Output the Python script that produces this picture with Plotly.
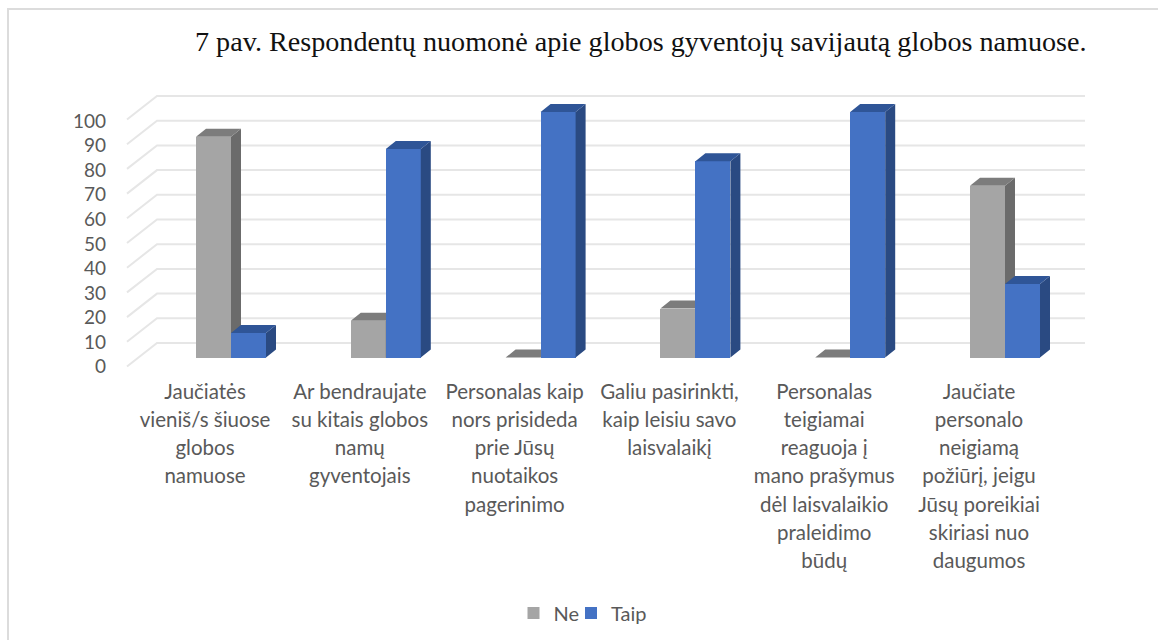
import plotly.graph_objects as go

categories = [
    ["Jaučiatės", "vieniš/s šiuose", "globos", "namuose"],
    ["Ar bendraujate", "su kitais globos", "namų", "gyventojais"],
    ["Personalas kaip", "nors prisideda", "prie Jūsų", "nuotaikos", "pagerinimo"],
    ["Galiu pasirinkti,", "kaip leisiu savo", "laisvalaikį"],
    ["Personalas", "teigiamai", "reaguoja į", "mano prašymus", "dėl laisvalaikio", "praleidimo", "būdų"],
    ["Jaučiate", "personalo", "neigiamą", "požiūrį, jeigu", "Jūsų poreikiai", "skiriasi nuo", "daugumos"],
]
ne = [90, 15, 0, 20, 0, 70]
taip = [10, 85, 100, 80, 100, 30]
ticks = [0, 10, 20, 30, 40, 50, 60, 70, 80, 90, 100]

W, H = 1158, 640
L, R, T, B = 107, 1110, 80, 376
PX_X = 154.8      # pixels per category
PX_Y = 2.455      # pixels per value unit
X0, Y0 = 231, 357.6  # pixel of x=0, value=0 at the bar front

bar_w = 35 / PX_X
dx, dy = 10 / PX_X, 8 / PX_Y          # bar depth
GRID_PX = 2.47                        # back wall grid step, pixels per value unit
label_shift = 9 / PX_Y                # tick label centre below the bar base
wall_left, wall_back = (127 - X0) / PX_X, (157 - X0) / PX_X
wall_right = (1085 - X0) / PX_X

xr = [(L - X0) / PX_X, (R - X0) / PX_X]
yr = [(Y0 - B) / PX_Y, (Y0 - T) / PX_Y]

TEXT = "#595959"
SANS = "Lato"


def rings(quads):
    xs, ys = [], []
    for q in quads:
        xs += [p[0] for p in q] + [q[0][0], None]
        ys += [p[1] for p in q] + [q[0][1], None]
    return xs, ys


def series(name, values, offset, front, side, top, xa, ya, legend):
    i_v = list(enumerate(values))
    out = [go.Bar(x=list(range(len(values))), y=values, name=name, width=bar_w,
                  offset=offset, marker=dict(color=front, line=dict(width=0)),
                  xaxis=xa, yaxis=ya, legend=legend)]
    sq = [[(i + offset + bar_w, 0), (i + offset + bar_w + dx, dy),
           (i + offset + bar_w + dx, v + dy), (i + offset + bar_w, v)] for i, v in i_v]
    tq = [[(i + offset, v), (i + offset + dx, v + dy),
           (i + offset + bar_w + dx, v + dy), (i + offset + bar_w, v)] for i, v in i_v]
    for quads, col in ((sq, side), (tq, top)):
        xs, ys = rings(quads)
        out.append(go.Scatter(x=xs, y=ys, mode="lines", fill="toself", fillcolor=col,
                              line=dict(width=0), hoverinfo="skip", showlegend=False,
                              xaxis=xa, yaxis=ya))
    return out


# wall grid lines: back wall at y px 343 for 0, step GRID_PX; front edge 24 px lower
gx, gy = [], []
for t in ticks:
    back = (Y0 - 343) / PX_Y + t * GRID_PX / PX_Y
    gx += [wall_left, wall_back, wall_right, None]
    gy += [back - 23.5 / PX_Y, back, back, None]

fig = go.Figure()
fig.add_trace(go.Scatter(x=gx, y=gy, mode="lines", line=dict(color="#e6e6e6", width=2),
                         hoverinfo="skip", showlegend=False))
fig.add_traces(series("Ne", ne, -bar_w, "#a5a5a5", "#6b6b6b", "#7c7c7c", "x2", "y2", "legend"))
fig.add_traces(series("Taip", taip, 0, "#4472c4", "#2a4a82", "#2f5597", "x3", "y3", "legend2"))


def label(lines):
    return "<br>".join(f'<span style="font-size:20.5px">{s}</span>' for s in lines)


def legend_at(px):
    return dict(x=(px - L) / (R - L), xanchor="left", y=(B - 613) / (B - T), yanchor="middle",
                orientation="h", itemwidth=30, bgcolor="rgba(0,0,0,0)",
                font=dict(family=SANS, size=20, color=TEXT))


hidden = dict(visible=False, showgrid=False, zeroline=False)
fig.update_layout(
    width=W, height=H, autosize=False,
    margin=dict(l=L, r=W - R, t=T, b=H - B, pad=0, autoexpand=False),
    paper_bgcolor="white", plot_bgcolor="white",
    barmode="overlay", bargap=0,
    title=dict(text="7 pav. Respondentų nuomonė apie globos gyventojų savijautą globos namuose.",
               x=195 / W, xanchor="left", xref="container", y=1 - 41 / H, yanchor="middle",
               font=dict(family="Liberation Serif", size=28.15, color="#111111")),
    xaxis=dict(range=xr, showgrid=False, zeroline=False, showline=False, ticks="",
               tickmode="array", tickvals=[i - 26 / PX_X for i in range(len(categories))],
               ticktext=[label(c) for c in categories], tickangle=0,
               tickfont=dict(family=SANS, size=21.7, color=TEXT)),
    yaxis=dict(range=yr, showgrid=False, zeroline=False, showline=False, ticks="",
               tickmode="array", tickvals=[t - label_shift for t in ticks],
               ticktext=[str(t) for t in ticks],
               tickfont=dict(family=SANS, size=19, color=TEXT)),
    xaxis2=dict(range=xr, overlaying="x", **hidden),
    yaxis2=dict(range=yr, overlaying="y", **hidden),
    xaxis3=dict(range=xr, overlaying="x", **hidden),
    yaxis3=dict(range=yr, overlaying="y", **hidden),
    legend=legend_at(513.5),
    legend2=legend_at(571),
    shapes=[dict(type="path", xref="paper", yref="paper", layer="below",
                 path=f"M {(8 - L) / (R - L)} {(B - 640) / (B - T)} "
                      f"L {(8 - L) / (R - L)} {(B - 9) / (B - T)} "
                      f"L {(1158 - L) / (R - L)} {(B - 9) / (B - T)}",
                 line=dict(color="#dcdcdc", width=2))],
)

fig.write_html("out.html", config=dict(displayModeBar=False),
               post_script="document.body.style.margin='0';")
